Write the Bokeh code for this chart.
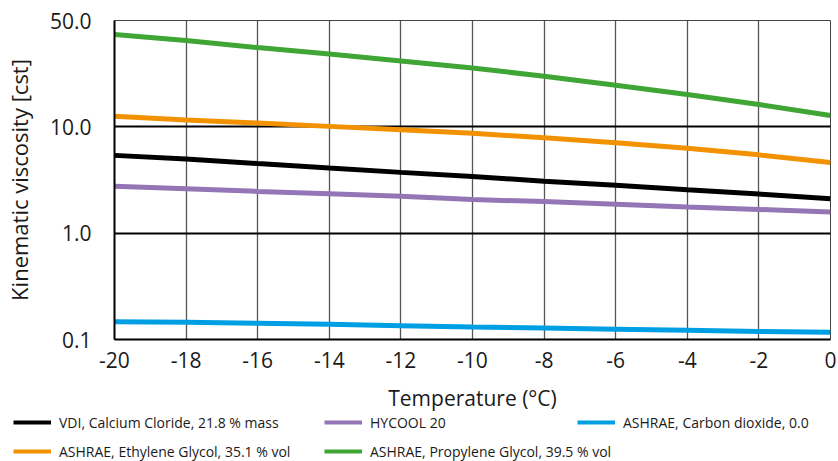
from bokeh.plotting import figure
from bokeh.layouts import column
from bokeh.models import Range1d, FixedTicker, CustomJSTickFormatter, Legend, LegendItem
from bokeh.embed import file_html
from bokeh.resources import INLINE

# ---- data ----
temperature = [-20, -18, -16, -14, -12, -10, -8, -6, -4, -2, 0]
vdi_calcium_chloride = [5.39, 4.98, 4.51, 4.10, 3.73, 3.42, 3.07, 2.82, 2.56, 2.33, 2.11]
hycool_20 = [2.76, 2.62, 2.47, 2.35, 2.22, 2.07, 1.98, 1.87, 1.76, 1.67, 1.58]
ashrae_carbon_dioxide = [0.147, 0.145, 0.142, 0.139, 0.135, 0.131, 0.128, 0.125, 0.122, 0.119, 0.117]
ashrae_ethylene_glycol = [12.56, 11.6, 10.85, 10.1, 9.37, 8.69, 7.88, 7.07, 6.28, 5.45, 4.63]
ashrae_propylene_glycol = [73.7, 64.7, 55.6, 48.4, 41.6, 35.7, 29.9, 24.6, 20.1, 16.2, 12.8]

x_ticks = [-20, -18, -16, -14, -12, -10, -8, -6, -4, -2, 0]
y_ticks = [0.1, 1, 10, 100]
y_tick_labels = ["0.1", "1.0", "10.0", "50.0"]

series_labels = [
    "VDI, Calcium Cloride, 21.8 % mass",
    "HYCOOL 20",
    "ASHRAE, Carbon dioxide, 0.0",
    "ASHRAE, Ethylene Glycol, 35.1 % vol",
    "ASHRAE, Propylene Glycol, 39.5 % vol",
]
series_colors = ["#000000", "#9475b5", "#009fe3", "#f39200", "#3fa535"]
series_values = [vdi_calcium_chloride, hycool_20, ashrae_carbon_dioxide,
                 ashrae_ethylene_glycol, ashrae_propylene_glycol]

FONT = "Open Sans"
TXT = "#1a1a1a"

p = figure(width=838, height=414, y_axis_type="log",
           x_range=Range1d(-20, 0), y_range=Range1d(0.1, 100),
           output_backend="svg", toolbar_location=None,
           min_border_left=111, min_border_right=8, min_border_top=20, min_border_bottom=70,
           background_fill_color="white", border_fill_color="white")
p.frame_align = False

p.outline_line_color = "#444444"
p.outline_line_width = 1

# axes
p.xaxis.ticker = FixedTicker(ticks=x_ticks)
p.xaxis.formatter = CustomJSTickFormatter(code="return tick.toFixed(0);")
p.yaxis.ticker = FixedTicker(ticks=y_ticks, minor_ticks=[])
mapping = ", ".join(f'"{t}": "{l}"' for t, l in zip(y_ticks, y_tick_labels))
p.yaxis.formatter = CustomJSTickFormatter(
    code="const m = {" + mapping + "}; const k = String(tick); return (k in m) ? m[k] : k;")

for ax in (p.xaxis[0], p.yaxis[0]):
    ax.major_tick_in = 0
    ax.major_tick_out = 0
    ax.minor_tick_line_color = None
    ax.axis_line_color = "black"
    ax.axis_line_width = 2
    ax.major_label_text_font = FONT
    ax.major_label_text_font_size = "21px"
    ax.major_label_text_color = TXT
    ax.axis_label_text_font = FONT
    ax.axis_label_text_font_style = "normal"
    ax.axis_label_text_color = TXT

p.xaxis.axis_label = "Temperature (\u00b0C)"
p.yaxis.axis_label = "Kinematic viscosity [cst]"
p.xaxis.axis_label_text_font_size = "21px"
p.yaxis.axis_label_text_font_size = "22px"
p.xaxis.major_label_standoff = 12
p.xaxis.axis_label_standoff = 13
p.yaxis.major_label_standoff = 23
p.yaxis.axis_label_standoff = 13

# grid
p.xgrid.ticker = FixedTicker(ticks=x_ticks)
p.xgrid.grid_line_color = "#555555"
p.xgrid.grid_line_width = 1.3
p.ygrid.ticker = FixedTicker(ticks=y_ticks, minor_ticks=[])
p.ygrid.grid_line_color = "black"
p.ygrid.grid_line_width = 2

for vals, col in zip(series_values, series_colors):
    p.line(temperature, vals, line_color=col, line_width=5)

# ---- legend strip below the chart ----
lf = figure(width=838, height=47, x_range=Range1d(100, 200), y_range=Range1d(100, 200),
            output_backend="svg", toolbar_location=None,
            x_axis_location=None, y_axis_location=None,
            min_border=0, outline_line_color=None,
            background_fill_color="white", border_fill_color="white")
lf.frame_align = False
lf.xgrid.visible = False
lf.ygrid.visible = False

legend_renderers = [lf.line(temperature, vals, line_color=col, line_width=4)
                    for vals, col in zip(series_values, series_colors)]

def make_legend(idx, x, y):
    items = [LegendItem(label=series_labels[i], renderers=[legend_renderers[i]]) for i in idx]
    lg = Legend(items=items, location=(x, y), orientation="vertical",
                label_text_font=FONT, label_text_font_size="14px",
                label_text_color=TXT,
                glyph_width=38, glyph_height=20, label_height=20,
                label_standoff=8, spacing=9, padding=0, margin=0,
                border_line_color=None, background_fill_alpha=0)
    lf.add_layout(lg, "center")

make_legend([0, 3], 13, 0)
make_legend([1, 4], 324, 0)
make_legend([2], 577, 29)

layout = column(p, lf, spacing=0)
open("out.html", "w").write(file_html(layout, INLINE))
